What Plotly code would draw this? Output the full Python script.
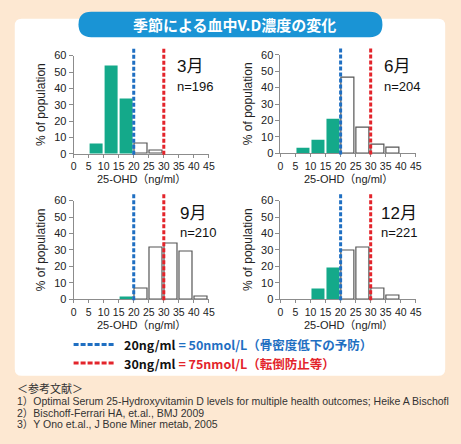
import plotly.graph_objects as go

# ---------------- data ----------------
bin_starts = [0, 5, 10, 15, 20, 25, 30, 35, 40]
bin_width = 5
months = ["3月", "6月", "9月", "12月"]
n_counts = [196, 204, 210, 221]
march = [None, 6.0, 54.0, 33.5, 6.4, 2.3, None, None, None]
june = [None, 3.2, 8.1, 20.9, 46.0, 15.4, 5.4, 3.2, None]
september = [None, None, None, 1.4, 6.3, 31.4, 34.0, 29.0, 1.8]
december = [None, None, 6.7, 19.3, 29.4, 31.4, 6.7, 2.0, None]
series = [march, june, september, december]
x_ticks = [0, 5, 10, 15, 20, 25, 30, 35, 40, 45]
y_ticks = [0, 10, 20, 30, 40, 50, 60]
thresholds = [20, 30]
threshold_colors = ["#1f6fc2", "#e3242b"]
legend_texts = [
    ("20ng/ml", "= 50nmol/L（骨密度低下の予防）"),
    ("30ng/ml", "= 75nmol/L（転倒防止等）"),
]
references = [
    "＜参考文献＞",
    "1）Optimal Serum 25-Hydroxyvitamin D levels for multiple health outcomes; Heike A Bischofl",
    "2）Bischoff-Ferrari HA, et.al., BMJ 2009",
    "3）Y Ono et.al., J Bone Miner metab, 2005",
]
title_text = "季節による血中V.D濃度の変化"

# ---------------- layout geometry (pixels) ----------------
W, H = 461, 444
GREEN = "#14a98a"
BG = "#fde8d2"
TXT = "#222222"
AX = "#8c8c8c"
XMIN, XMAX = 0, 45
YMIN, YMAX = 0, 60
# (x_left, x_right, y_bottom, y_top) in pixels for each panel
panels = [(72, 210, 152, 51), (283, 421, 151.5, 50),
          (72, 210, 301.5, 200), (283, 421, 301.5, 200)]
label_pos = [(175, 62, 83), (387, 62, 83), (178, 213, 233), (383, 213, 233)]
FONT = "Liberation Sans, Noto Sans CJK JP, sans-serif"


def px(x):
    return x / W


def py(y):
    return 1 - y / H


def rrect(x0, y0, x1, y1, r):
    pts = [f"M{px(x0 + r)},{py(y0)}", f"L{px(x1 - r)},{py(y0)}",
           f"Q{px(x1)},{py(y0)} {px(x1)},{py(y0 + r)}",
           f"L{px(x1)},{py(y1 - r)}",
           f"Q{px(x1)},{py(y1)} {px(x1 - r)},{py(y1)}",
           f"L{px(x0 + r)},{py(y1)}",
           f"Q{px(x0)},{py(y1)} {px(x0)},{py(y1 - r)}",
           f"L{px(x0)},{py(y0 + r)}",
           f"Q{px(x0)},{py(y0)} {px(x0 + r)},{py(y0)}", "Z"]
    return " ".join(pts)


fig = go.Figure()
shapes = []
annotations = []

# background panel + title pill
shapes.append(dict(type="path", xref="paper", yref="paper", layer="below",
                   path=rrect(12, 13, 451, 380, 7), fillcolor="white",
                   line=dict(width=0)))
shapes.append(dict(type="path", xref="paper", yref="paper", layer="below",
                   path=rrect(77, 6, 387, 32, 13), fillcolor="#1a94d5",
                   line=dict(width=0)))
annotations.append(dict(xref="paper", yref="paper", x=px(236), y=py(19.5),
                        text=f"<b>{title_text}</b>", showarrow=False,
                        font=dict(size=15, color="white", family="Noto Sans CJK JP"),
                        xanchor="center", yanchor="middle"))

for i, vals in enumerate(series):
    k = "" if i == 0 else str(i + 1)
    xa, ya = "x" + k, "y" + k
    xl, xr, yb, yt = panels[i]
    xs, ys, colors, lcol, lw = [], [], [], [], []
    for s, v in zip(bin_starts, vals):
        if v is None:
            continue
        xs.append(s + bin_width * 0.48)
        ys.append(v)
        if s < thresholds[0]:
            colors.append(GREEN)
            lcol.append(GREEN)
            lw.append(0)
        else:
            colors.append("white")
            lcol.append("#555555")
            lw.append(1.2)
    fig.add_trace(go.Bar(x=xs, y=ys, width=bin_width * 0.88,
                         marker=dict(color=colors, line=dict(color=lcol, width=lw)),
                         xaxis=xa, yaxis=ya, showlegend=False, hoverinfo="skip"))
    axx = dict(domain=[px(xl), px(xr)], range=[XMIN, XMAX], anchor=ya,
               tickvals=x_ticks, ticktext=[str(t) for t in x_ticks],
               showline=True, linecolor=AX, linewidth=1, ticks="outside",
               ticklen=3, tickcolor=AX, showgrid=False, zeroline=False,
               tickfont=dict(size=10.5, color=TXT, family=FONT), fixedrange=True)
    axy = dict(domain=[py(yb), py(yt)], range=[YMIN, YMAX], anchor=xa,
               tickvals=y_ticks, showline=True, linecolor=AX, linewidth=1,
               ticks="outside", ticklen=4, tickcolor=AX, showgrid=False,
               zeroline=False, tickfont=dict(size=11, color=TXT, family=FONT),
               fixedrange=True)
    fig.update_layout({("xaxis" + k): axx, ("yaxis" + k): axy})

    # threshold dashed lines
    for thr, c in zip(thresholds, threshold_colors):
        xd = (thr - XMIN) / (XMAX - XMIN)
        shapes.append(dict(type="line", xref=xa + " domain", yref=ya + " domain",
                           x0=xd, x1=xd, y0=-0.01, y1=1.07,
                           line=dict(color=c, width=3, dash="4px,2px")))

    # labels
    lx, my, ny = label_pos[i]
    annotations.append(dict(xref="paper", yref="paper", x=px(lx), y=py(my),
                            text=months[i], showarrow=False, xanchor="left",
                            yanchor="middle",
                            font=dict(size=17, color="#111", family=FONT)))
    annotations.append(dict(xref="paper", yref="paper", x=px(lx), y=py(ny),
                            text=f"n={n_counts[i]}", showarrow=False,
                            xanchor="left", yanchor="middle",
                            font=dict(size=13, color="#111", family=FONT)))
    annotations.append(dict(xref="paper", yref="paper", x=px((xl + xr) / 2),
                            y=py(yb + 26), text="25-OHD（ng/ml）", showarrow=False,
                            xanchor="center", yanchor="middle",
                            font=dict(size=11, color=TXT, family=FONT)))
    annotations.append(dict(xref="paper", yref="paper", x=px(xl - 33),
                            y=py((yb + yt) / 2), text="% of population",
                            showarrow=False, textangle=-90, xanchor="center",
                            yanchor="middle",
                            font=dict(size=12, color=TXT, family=FONT)))

# legend for threshold lines
for j, ((a, b), c) in enumerate(zip(legend_texts, threshold_colors)):
    yy = 348 + j * 19
    shapes.append(dict(type="line", xref="paper", yref="paper",
                       x0=px(72), x1=px(114), y0=py(yy), y1=py(yy),
                       line=dict(color=c, width=3, dash="5px,2px")))
    annotations.append(dict(xref="paper", yref="paper", x=px(121), y=py(yy),
                            text=f"<b>{a} <span style='color:{c}'>{b}</span></b>",
                            showarrow=False, xanchor="left", yanchor="middle",
                            font=dict(size=12.5, color="#111",
                                      family="Noto Sans CJK JP")))

# references
ref_y = [393, 406, 418, 430]
for t, yy in zip(references, ref_y):
    annotations.append(dict(xref="paper", yref="paper", x=px(12), y=py(yy),
                            text=t, showarrow=False, xanchor="left",
                            yanchor="middle",
                            font=dict(size=10.5 if yy > 395 else 11, color="#333",
                                      family=FONT)))

fig.update_layout(width=W, height=H, margin=dict(l=0, r=0, t=0, b=0),
                  paper_bgcolor=BG, plot_bgcolor="rgba(0,0,0,0)",
                  shapes=shapes, annotations=annotations, bargap=0,
                  showlegend=False)

fig.write_html("out.html", config={"displayModeBar": False})
